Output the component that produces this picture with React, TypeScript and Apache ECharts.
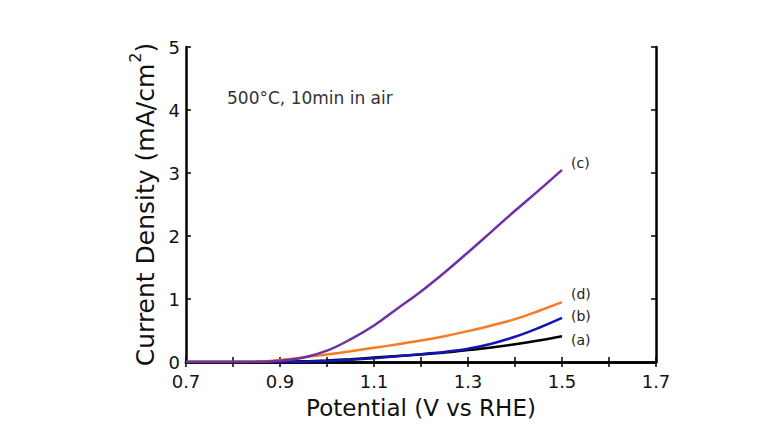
import React, { useEffect, useRef } from "react";
import * as echarts from "echarts";

const potential = [0.7, 0.75, 0.8, 0.85, 0.9, 0.95, 1.0, 1.05, 1.1, 1.15, 1.2, 1.25, 1.3, 1.35, 1.4, 1.45, 1.5];
const seriesA = [0, 0, 0, 0, 0.002, 0.01, 0.025, 0.045, 0.07, 0.095, 0.12, 0.15, 0.19, 0.23, 0.28, 0.34, 0.41];
const seriesB = [0, 0, 0, 0, 0, 0.005, 0.015, 0.035, 0.06, 0.09, 0.125, 0.16, 0.21, 0.29, 0.4, 0.54, 0.7];
const seriesC = [0, 0, 0, 0.002, 0.018, 0.07, 0.18, 0.36, 0.58, 0.85, 1.12, 1.42, 1.74, 2.07, 2.4, 2.72, 3.05];
const seriesD = [0, 0, 0, 0.005, 0.03, 0.07, 0.12, 0.17, 0.225, 0.28, 0.34, 0.41, 0.49, 0.58, 0.68, 0.81, 0.95];
const labels = ["(a)", "(b)", "(c)", "(d)"];
const annotation = "500°C, 10min in air";
const yTitle = "Current Density (mA/cm";

const FONT = "'DejaVu Sans', sans-serif";

export default function App() {
  const ref = useRef<HTMLDivElement>(null);
  useEffect(() => {
    if (!ref.current) return;
    const chart = echarts.init(ref.current, null, { renderer: "svg" });
    const zip = (ys: number[]) => potential.map((x, i) => [x, ys[i]]);
    const mk = (name: string, ys: number[], color: string, dy: number) => ({
      name,
      type: "line",
      data: zip(ys),
      showSymbol: false,
      symbol: "none",
      smooth: 0.4,
      lineStyle: { color, width: 2.5 },
      z: 3,
      endLabel: {
        show: true,
        formatter: name,
        distance: 9,
        offset: [0, dy],
        color: "#222",
        fontSize: 14,
        fontFamily: FONT,
      },
    });
    const axisCommon = {
      axisLine: { show: true, lineStyle: { color: "#000", width: 2.5 } },
      axisTick: { show: true, inside: true, length: 5, lineStyle: { color: "#000", width: 1.5 } },
      splitLine: { show: false },
    };
    chart.setOption({
      animation: false,
      grid: { left: 178, top: 39, right: 114, bottom: 65 },
      xAxis: [
        {
          type: "value",
          min: 0.7,
          max: 1.7,
          interval: 0.2,
          position: "bottom",
          ...axisCommon,
          minorTick: { show: true, splitNumber: 2, length: 5, lineStyle: { color: "#000", width: 1.5 } },
          axisLabel: { color: "#111", fontSize: 18, fontFamily: FONT, margin: 10, formatter: (v: number) => v.toFixed(1) },
          name: "Potential (V vs RHE)",
          nameLocation: "middle",
          nameGap: 34,
          nameTextStyle: { color: "#111", fontSize: 23, fontFamily: FONT },
        },
        {
          type: "value",
          min: 0.7,
          max: 1.7,
          interval: 0.2,
          position: "top",
          ...axisCommon,
          minorTick: { show: true, splitNumber: 2, length: 5, lineStyle: { color: "#000", width: 1.5 } },
          axisLabel: { show: false },
        },
      ],
      yAxis: [
        {
          type: "value",
          min: 0,
          max: 5,
          interval: 1,
          position: "left",
          ...axisCommon,
          axisLabel: { color: "#111", fontSize: 18, fontFamily: FONT, margin: 6 },
          name: "{t|" + yTitle + "}{s|2}{t|)}",
          nameLocation: "middle",
          nameGap: 24,
          nameRotate: 90,
          nameTextStyle: {
            color: "#111",
            fontSize: 25,
            fontFamily: FONT,
            rich: {
              t: { color: "#111", fontSize: 25, fontFamily: FONT, lineHeight: 30, verticalAlign: "bottom" },
              s: { color: "#111", fontSize: 16, fontFamily: FONT, lineHeight: 30, verticalAlign: "top", padding: [0, 0, 0, 1] },
            },
          },
        },
        {
          type: "value",
          min: 0,
          max: 5,
          interval: 1,
          position: "right",
          ...axisCommon,
          axisLabel: { show: false },
        },
      ],
      series: [
        mk(labels[0], seriesA, "#000000", 4),
        mk(labels[1], seriesB, "#1414B4", -2),
        mk(labels[3], seriesD, "#F97A22", -8),
        mk(labels[2], seriesC, "#7030A0", -7),
      ],
      graphic: [
        {
          type: "text",
          left: 219,
          top: 81,
          style: { text: annotation, fill: "#333", fontSize: 17, fontFamily: FONT },
        },
      ],
    });
    return () => chart.dispose();
  }, []);
  return <div ref={ref} style={{ width: 762, height: 419 }} />;
}
